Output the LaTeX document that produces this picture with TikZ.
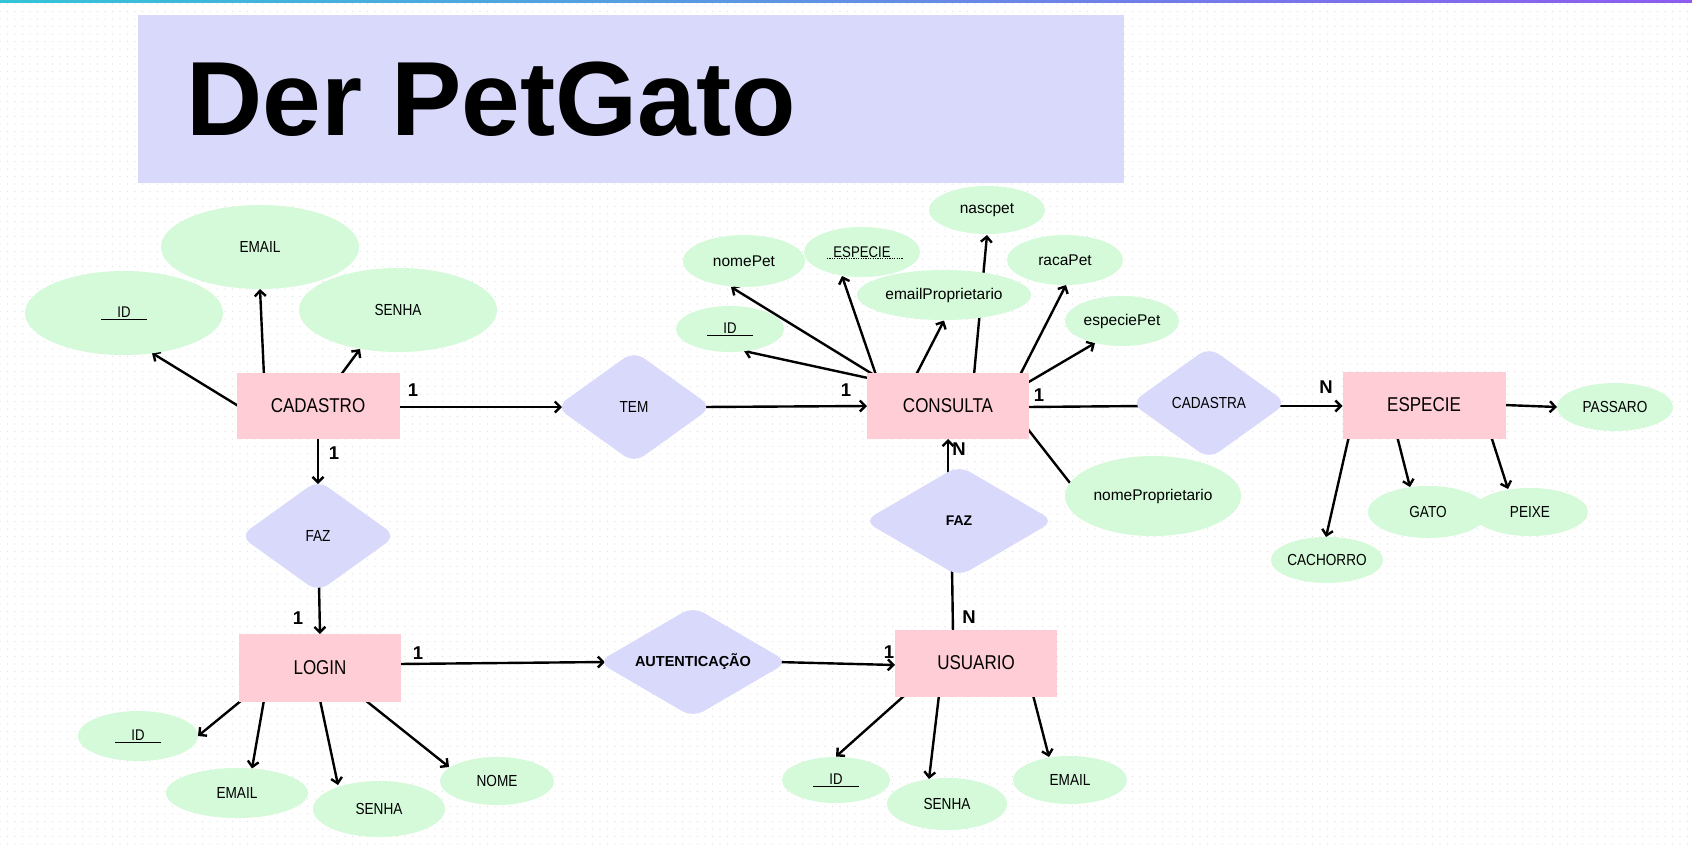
\documentclass[tikz,border=0pt]{standalone}
\usepackage{fontspec}
\setmainfont{Liberation Sans}
\newfontfamily\condf{Liberation Sans}[FakeStretch=0.85]
\usetikzlibrary{shapes.geometric,calc,arrows.meta,patterns.meta}
\definecolor{pinkE}{RGB}{255,205,213}
\definecolor{lav}{RGB}{217,217,252}
\definecolor{grn}{RGB}{212,250,218}
\definecolor{topl}{RGB}{52,196,216}
\definecolor{topr}{RGB}{142,92,240}
\pgfdeclarelayer{bg}
\pgfdeclarelayer{lines}
\pgfsetlayers{bg,lines,main}
\newcommand\idu{\underline{\hspace{16pt}ID\hspace{16pt}}}
\tikzset{
  ent/.style={rectangle, fill=pinkE, minimum width=162pt, minimum height=67pt, inner sep=0pt, font=\condf\fontsize{20}{24}\selectfont},
  relA/.style={diamond, fill=lav, rounded corners=12pt, inner sep=0pt, aspect=1.7, font=\condf\fontsize{16}{19}\selectfont},
  relB/.style={diamond, fill=lav, rounded corners=12pt, inner sep=0pt, aspect=1.7, font=\bfseries\fontsize{14.5}{17}\selectfont},
  attU/.style={ellipse, fill=grn, inner sep=0pt, font=\condf\fontsize{16}{19}\selectfont},
  attL/.style={ellipse, fill=grn, inner sep=0pt, font=\fontsize{15.5}{18}\selectfont},
  attI/.style={ellipse, fill=grn, inner sep=0pt, font=\condf\fontsize{15.5}{18}\selectfont},
  card/.style={inner sep=0pt, font=\bfseries\fontsize{18.5}{20}\selectfont},
  arr/.style={line width=2.4pt, -{Straight Barb[length=5.5pt,width=11pt,line width=2.4pt]}},
  ln/.style={line width=2.4pt}
}
\begin{document}
\begin{tikzpicture}[x=1pt,y=-1pt]
\useasboundingbox (0,0) rectangle (1692,844);
\begin{pgfonlayer}{bg}
\fill[white] (0,0) rectangle (1692,844);
\fill[pattern={Dots[radius=0.55pt,distance=7.5pt]}, pattern color=black!13] (0,0) rectangle (1692,844);
\shade[left color=topl, right color=topr] (0,0) rectangle (1692,2.2);
\end{pgfonlayer}

% title
\fill[lav] (138,15) rectangle (1124,183);
\node[anchor=base west, inner sep=0pt, font=\bfseries\fontsize{105.5}{110}\selectfont] (title) at (186,135) {Der PetGato};

% entities
\node[ent, minimum width=163pt, minimum height=66pt] (cad) at (318,406) {CADASTRO};
\node[ent, minimum height=66pt] (cons) at (948,406) {CONSULTA};
\node[ent, minimum width=163pt] (esp) at (1424,405) {ESPECIE};
\node[ent, minimum height=68pt] (login) at (320,668) {LOGIN};
\node[ent] (usu) at (976,663) {USUARIO};

% relationships
\node[relA, minimum width=156pt, minimum height=112pt] (tem) at (634,407) {TEM};
\node[relA, minimum width=156pt, minimum height=112pt] (faz1) at (318,536) {FAZ};
\node[relB, minimum width=190pt, minimum height=111pt] (aut) at (693,662) {AUTENTICAÇÃO};
\node[relB, minimum width=190pt, minimum height=111pt, font=\bfseries\fontsize{14}{17}\selectfont] (faz2) at (959,521) {FAZ};
\node[relA, minimum width=156pt, minimum height=112pt] (cadastra) at (1209,403) {CADASTRA};

% CADASTRO attributes
\node[attI, minimum width=198pt, minimum height=84pt] (cid) at (124,313) {\idu};
\node[attU, minimum width=198pt, minimum height=84pt] (cemail) at (260,247) {EMAIL};
\node[attU, minimum width=198pt, minimum height=84pt] (csenha) at (398,310) {SENHA};

% LOGIN attributes
\node[attI, minimum width=120pt, minimum height=50pt] (lid) at (138,736) {\idu};
\node[attU, minimum width=142pt, minimum height=50pt] (lemail) at (237,793) {EMAIL};
\node[attU, minimum width=132pt, minimum height=56pt] (lsenha) at (379,809) {SENHA};
\node[attU, minimum width=114pt, minimum height=48pt] (lnome) at (497,781) {NOME};

% USUARIO attributes
\node[attI, minimum width=108pt, minimum height=46pt] (uid) at (836,780) {\idu};
\node[attU, minimum width=120pt, minimum height=52pt] (usenha) at (947,804) {SENHA};
\node[attU, minimum width=114pt, minimum height=48pt] (uemail) at (1070,780) {EMAIL};

% CONSULTA attributes
\node[attL, minimum width=116pt, minimum height=48pt] (nascpet) at (987,210) {nascpet};
\node[attI, minimum width=116pt, minimum height=50pt] (cesp) at (862,252) {ESPECIE};
\node[attL, minimum width=122pt, minimum height=52pt] (nomepet) at (744,261) {nomePet};
\node[attL, minimum width=116pt, minimum height=50pt] (racapet) at (1065,260) {racaPet};
\node[attL, minimum width=174pt, minimum height=50pt] (emailprop) at (944,295) {emailProprietario};
\node[attI, minimum width=108pt, minimum height=46pt] (coid) at (730,329) {\idu};
\node[attL, minimum width=114pt, minimum height=50pt] (especiepet) at (1122,321) {especiePet};
\node[attL, minimum width=176pt, minimum height=80pt] (nomeprop) at (1153,496) {nomeProprietario};
\draw[line width=1.6pt, dash pattern=on 1.2pt off 1.2pt] ($(cesp)+(-35,6.5)$) -- ($(cesp)+(41,6.5)$);

% ESPECIE attributes
\node[attU, minimum width=116pt, minimum height=48pt] (passaro) at (1615,407) {PASSARO};
\node[attU, minimum width=120pt, minimum height=52pt] (gato) at (1428,512) {GATO};
\node[attU, minimum width=116pt, minimum height=48pt] (peixe) at (1530,512) {PEIXE};
\node[attU, minimum width=108pt, minimum height=46pt] (cachorro) at (1327,560) {CACHORRO};

% cardinalities
\node[card] (k1) at (413,390) {1};
\node[card] (k2) at (334,453) {1};
\node[card] (k3) at (846,390) {1};
\node[card] (k4) at (1039,395) {1};
\node[card] (k5) at (1326,387) {N};
\node[card] (k6) at (959,449) {N};
\node[card] (k7) at (298,618) {1};
\node[card] (k8) at (418,653) {1};
\node[card] (k9) at (889,652) {1};
\node[card] (k10) at (969,617) {N};

\begin{pgfonlayer}{lines}
% CADASTRO
\draw[arr] ($(cad)+(-78,1)$) -- ($(cid)+(28,40)$);
\draw[arr] ($(cad)+(-54,-30)$) -- ($(cemail)+(0,42)$);
\draw[arr] ($(cad)+(22,-30)$) -- ($(csenha)+(-38,39)$);
\draw[arr] ($(cad)+(80,1)$) -- ($(tem)+(-72,0)$);
\draw[arr] ($(tem)+(68,0)$) -- ($(cons)+(-81,0)$);
\draw[arr] ($(cad)+(0,30)$) -- ($(faz1)+(0,-52)$);
\draw[arr] ($(faz1)+(1,48)$) -- ($(login)+(0,-34)$);
% LOGIN
\draw[arr] ($(login)+(78,-4)$) -- ($(aut)+(-88,0)$);
\draw[arr] ($(login)+(-78,32)$) -- ($(lid)+(60,0)$);
\draw[arr] ($(login)+(-56,32)$) -- ($(lemail)+(15,-24.5)$);
\draw[arr] ($(login)+(0,32)$) -- ($(lsenha)+(-41,-24)$);
\draw[arr] ($(login)+(45,32)$) -- ($(lnome)+(-48,-14)$);
% USUARIO
\draw[arr] ($(aut)+(84,0)$) -- ($(usu)+(-81,2)$);
\draw[ln] ($(faz2)+(-7,45)$) -- ($(usu)+(-23,-30)$);
\draw[arr] ($(faz2)+(-11,-44)$) -- ($(cons)+(0,33)$);
\draw[arr] ($(usu)+(-71,32)$) -- ($(uid)+(0,-23.5)$);
\draw[arr] ($(usu)+(-37,32)$) -- ($(usenha)+(-18,-25)$);
\draw[arr] ($(usu)+(57,32)$) -- ($(uemail)+(-21,-23)$);
% CONSULTA
\draw[arr] ($(cons)+(-80,-28)$) -- ($(coid)+(14,22)$);
\draw[arr] ($(cons)+(-74,-31)$) -- ($(nomepet)+(-13,26)$);
\draw[arr] ($(cons)+(-72,-31)$) -- ($(cesp)+(-20,24)$);
\draw[arr] ($(cons)+(-32,-31)$) -- ($(emailprop)+(0,25.5)$);
\draw[arr] ($(cons)+(26,-31)$) -- ($(nascpet)+(0,25)$);
\draw[arr] ($(cons)+(72,-31)$) -- ($(racapet)+(1,25)$);
\draw[arr] ($(cons)+(79,-23)$) -- ($(especiepet)+(-27,22)$);
\draw[ln] ($(cons)+(79,22)$) -- ($(nomeprop)+(-83,-13)$);
\draw[ln] ($(cons)+(79,1)$) -- ($(cadastra)+(-66,3)$);
% ESPECIE
\draw[arr] ($(cadastra)+(67,3)$) -- ($(esp)+(-81.5,1)$);
\draw[arr] ($(esp)+(80,0)$) -- ($(passaro)+(-58,0)$);
\draw[arr] ($(esp)+(-75,31)$) -- ($(cachorro)+(-1,-23)$);
\draw[arr] ($(esp)+(-27,31)$) -- ($(gato)+(-18,-25)$);
\draw[arr] ($(esp)+(67,31)$) -- ($(peixe)+(-22,-23)$);
\end{pgfonlayer}
\end{tikzpicture}
\end{document}
